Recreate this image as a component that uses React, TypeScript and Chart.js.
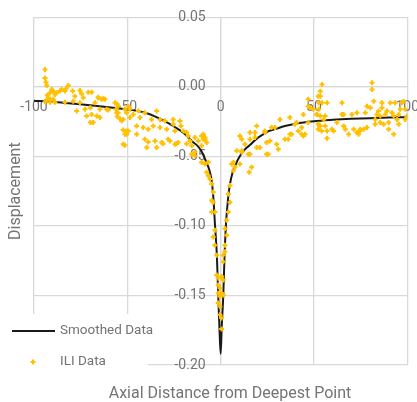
import React, { useEffect, useRef } from "react";
import { Chart, registerables } from "chart.js";

Chart.register(...registerables);

const FONT = "Roboto, 'Noto Sans', sans-serif";
const TEXT = "#747474";
const GRID = "#d9d9d9";
const GOLD = "#FFC000";

const xTitle = "Axial Distance from Deepest Point";
const yTitle = "Displacement";
const seriesNames = ["Smoothed Data", "ILI Data"];

const xTicks = [-100, -50, 0, 50, 100];
const xTickLabels = ["-100", "-50", "0", "50", "100"];
const yTicks = [0.05, 0, -0.05, -0.1, -0.15, -0.2];
const yTickLabels = ["0.05", "0.00", "-0.05", "-0.10", "-0.15", "-0.20"];

// Smoothed curve
const smoothX = [
  -100, -90, -80, -70, -60, -50, -40, -30, -25, -20, -15, -12, -10, -8, -6, -5, -4, -3, -2, -1.3, -0.6, 0,
  0.6, 1.4, 2, 2.8, 4, 5, 6.5, 8, 10, 13, 16, 19, 23, 26, 30, 35, 40, 50, 60, 70, 80, 90, 100,
];
const smoothY = [
  -0.01, -0.0108, -0.012, -0.0132, -0.0146, -0.0162, -0.0188, -0.0246, -0.0285, -0.033, -0.0395, -0.043, -0.047,
  -0.053, -0.06, -0.066, -0.078, -0.1, -0.122, -0.15, -0.175, -0.192,
  -0.172, -0.15, -0.125, -0.1, -0.08, -0.07, -0.061, -0.056, -0.0505, -0.045, -0.0415, -0.0376, -0.034, -0.0317,
  -0.03, -0.028, -0.0265, -0.0247, -0.0237, -0.023, -0.0225, -0.0221, -0.0218,
];

// ILI scatter data
const iliX = [
  -94.1, -94.1, -93.6, -93.2, -92.4, -91.4, -91.4, -91.4, -90.5, -89.7, -89.7, -88.8, -88.8, -87.9, -86.1, -85.2,
  -83.4, -83.4, -82.9, -81.6, -79.3, -79, -78.1, -77.1, -75.4, -75.4, -74.5, -73.6, -72.7, -71.8, -70.9, -69.8,
  -69.8, -69.1, -69.1, -68.3, -67.3, -65.6, -64.7, -64.7, -62.9, -62, -61.1, -60.2, -56.6, -56.1, -55.4, -55.4,
  -54.9, -53.9, -53, -52.2, -52.2, -51.3, -51.3, -51.3, -50.4, -50.4,
  -93.2, -94, -92.9, -65.6, -63.8, -66.4, -54.9, -55.7, -52.2, -49.5, -50.4,
  -49.5, -48.6, -48.6, -46.8, -44.1, -43.2, -45, -41.5, -40.6, -38.8, -40.6, -38.8, -39.6, -37, -36.1, -34.3,
  -35.2, -34.3, -32.5, -32.5, -31.6, -29.8, -28.9, -28.1, -27.2, -25.4, -25.4, -24.5, -24.5, -22.7, -21.8, -21.3,
  -20, -18.2, -17.4, -16.4, -15.5, -13.8, -12, -9.3, -9.3, -8.4, -10.2, -13.8,
  -45, -30.8, -23.6, -18.2, -10.2, -8.4, -7.5,
  -15.5, -13.8, -10.2, -8.4, -6.6, -7.5, -6.6, -5.7, -4.8, -4, -4.8, -4, -4.8, -3.1, -3.1, -4, -3.1, -2.1, -2.1,
  -1.3, -1.3, -0.4, -1.3, -0.4, -1.3, -0.4, -0.4,
  0.5, 0.5, 0.5, 0.5, 1.4, 1.4, 1.4, 1.4, 2.3, 2.3, 3.2, 2.3, 3.2, 4.1, 5, 4.1, 5, 5.9, 7.7, 6.8, 6.8, 10.3, 8.6,
  11.3, 14.8, 15.3, 16.6, 15.7, 11.3, 10.3, 11.3, 13, 15.7, 18.4, 19.3, 21,
  24.6, 26.4, 30, 30.9, 25.5, 23.7, 34.4, 36.2, 38, 15.7, 19.3, 18.4, 23.7, 24.6, 27.3, 29.1, 31.8, 37.1, 37.1,
  39.8, 40.7, 41.6, 43.4, 44.3, 46.9, 46.9, 46.9, 47.8, 49.6, 51.4, 52.3, 52.3, 43.4, 45.2, 44.3, 52.3, 54.1,
  54.3, 53.4, 53.4, 52.5, 54.3, 57, 52.5, 51.6, 53.4, 56, 55.2, 52.5, 53.4, 56, 57, 57, 59.6, 60.5, 62.3, 65, 65,
  65.9, 65.9, 66.8, 68.6, 70.3, 71.3, 73, 73.9, 74.8, 76.6, 77.5, 78.4, 78.4, 80.2, 81.1, 81.1, 82, 82.8, 82.8,
  83.7, 84.6, 85.5, 85.5, 86.4, 86.4, 87.3, 88.2, 89.1, 90, 90, 90.9, 91.8, 92.7, 93.5, 94.5, 95.4, 96.2, 97.1,
  98, 98.9, 99.8, 98.9, 95.4, 92.7, 72.9, 74.6,
];
const iliY = [
  0.0124, 0.0064, 0.0033, 0.001, -0.0079, -0.0043, -0.009, -0.011, -0.002, -0.003, -0.009, -0.0055, -0.011, -0.0043,
  -0.003, -0.002, -0.003, -0.011, -0.0014, 0.001, -0.003, -0.0103, -0.0067, -0.0174, -0.0026, -0.0114, -0.005,
  -0.0079, -0.0162, -0.021, -0.0039, -0.015, -0.0257, -0.0039, -0.0198, -0.0257, -0.0114, -0.0074, -0.0162, -0.0221,
  -0.0086, -0.009, -0.0162, -0.0167, -0.0114, -0.0162, -0.0126, -0.0214, -0.0186, -0.0229, -0.0246, -0.031, -0.0412,
  -0.0162, -0.034, -0.042, -0.0186, -0.0317,
  -0.0095, -0.0105, -0.006, -0.0079, -0.009, -0.021, -0.0139, -0.0186, -0.0234, -0.0317, -0.034,
  -0.0139, -0.0162, -0.0221, -0.0198, -0.0174, -0.0221, -0.0281, -0.0293, -0.0186, -0.0305, -0.0376, -0.0396,
  -0.0436, -0.0234, -0.0281, -0.0174, -0.0389, -0.0436, -0.0234, -0.0293, -0.04, -0.0246, -0.0305, -0.0376, -0.0389,
  -0.0234, -0.0269, -0.0317, -0.0412, -0.04, -0.0246, -0.0281, -0.0317, -0.0329, -0.0353, -0.0389, -0.0424, -0.0364,
  -0.0389, -0.034, -0.0376, -0.0376, -0.0424, -0.0496,
  -0.034, -0.041, -0.041, -0.041, -0.0353, -0.0364, -0.04,
  -0.0484, -0.0471, -0.0543, -0.0555, -0.0543, -0.0614, -0.0639, -0.0662, -0.0698, -0.0757, -0.0817, -0.0829,
  -0.09, -0.09, -0.1031, -0.1079, -0.1139, -0.121, -0.1353, -0.1376, -0.1424, -0.1448, -0.1484, -0.1507, -0.1555,
  -0.1579, -0.1639,
  -0.1364, -0.1484, -0.1662, -0.1741, -0.121, -0.1257, -0.1389, -0.1496, -0.1186, -0.1139, -0.1067, -0.1019,
  -0.096, -0.09, -0.0829, -0.077, -0.071, -0.0555, -0.0579, -0.0603, -0.0543, -0.0555, -0.046, -0.0471, -0.0484,
  -0.0614, -0.0579, -0.0484, -0.046, -0.0353, -0.0376, -0.0412, -0.0376, -0.0329, -0.0436, -0.0436,
  -0.04, -0.0389, -0.0412, -0.0448, -0.0484, -0.0329, -0.0376, -0.0376, -0.034, -0.0329, -0.0281, -0.0364,
  -0.0317, -0.0484, -0.0293, -0.0293, -0.0234, -0.034, -0.0221, -0.0269, -0.0257, -0.0317, -0.0293, -0.0198,
  -0.0257, -0.009, -0.0139, -0.015, -0.0162, -0.0198, -0.0067, -0.0269, -0.034, -0.034, -0.0353, -0.0305, -0.0317,
  0.0016, -0.0031, -0.0067, -0.0114, -0.0114, -0.0114, -0.0162, -0.0198, -0.021, -0.021, -0.0234, -0.0269, -0.0281,
  -0.0281, -0.0317, -0.0369, -0.0305, -0.0317, -0.0257, -0.0114, -0.0198, -0.0198, -0.0281, -0.0305, -0.034,
  -0.0198, -0.0305, -0.0186, -0.034, -0.0305, -0.0305, -0.0186, -0.0139, -0.0293, -0.015, 0.0029, -0.0019, -0.0103,
  -0.0234, -0.0269, -0.0198, -0.0174, -0.021, -0.0257, -0.0114, -0.015, -0.0269, -0.0198, -0.0174, -0.0257, -0.0305,
  -0.0114, -0.0186, -0.034, -0.0114, -0.0234, -0.0269, -0.0162, -0.0114, -0.0103, -0.0162, -0.021, -0.0234, -0.0198,
  -0.021, -0.0329, -0.0317,
];

const textPlugin = {
  id: "customText",
  beforeDatasetsDraw(chart: any) {
    const ctx = chart.ctx;
    const xs = chart.scales.x;
    const ys = chart.scales.y;
    const x0 = xs.getPixelForValue(0);
    const y0 = ys.getPixelForValue(0);
    ctx.save();
    ctx.fillStyle = TEXT;
    ctx.font = `14px ${FONT}`;
    ctx.textBaseline = "middle";
    ctx.textAlign = "center";
    xTicks.forEach((v, i) => ctx.fillText(xTickLabels[i], xs.getPixelForValue(v), y0 + 21));
    ctx.textAlign = "right";
    yTicks.forEach((v, i) => ctx.fillText(yTickLabels[i], x0 - 15, ys.getPixelForValue(v)));
    ctx.restore();
  },
  afterDatasetsDraw(chart: any) {
    const ctx = chart.ctx;
    const area = chart.chartArea;
    ctx.save();
    // legend box
    ctx.fillStyle = "#ffffff";
    ctx.fillRect(0, 314, 148, 58);
    ctx.strokeStyle = "#1a1a1a";
    ctx.lineWidth = 2;
    ctx.beginPath();
    ctx.moveTo(12, 331);
    ctx.lineTo(55, 331);
    ctx.stroke();
    ctx.strokeStyle = GOLD;
    ctx.lineWidth = 2;
    ctx.beginPath();
    ctx.moveTo(30.5, 362);
    ctx.lineTo(35.5, 362);
    ctx.moveTo(33, 359.5);
    ctx.lineTo(33, 364.5);
    ctx.stroke();
    ctx.fillStyle = TEXT;
    ctx.font = `13.5px ${FONT}`;
    ctx.textAlign = "left";
    ctx.textBaseline = "middle";
    ctx.fillText(seriesNames[0], 60, 331);
    ctx.fillText(seriesNames[1], 60, 362);
    // axis titles
    ctx.font = `16px ${FONT}`;
    ctx.textAlign = "center";
    ctx.fillText(xTitle, 230, 394);
    ctx.translate(16, (area.top + area.bottom) / 2);
    ctx.rotate(-Math.PI / 2);
    ctx.fillText(yTitle, 0, 0);
    ctx.restore();
  },
};

export default function App() {
  const ref = useRef<HTMLCanvasElement | null>(null);
  useEffect(() => {
    if (!ref.current) return;
    const chart = new Chart(ref.current, {
      type: "scatter",
      data: {
        datasets: [
          {
            label: seriesNames[1],
            data: iliX.map((x, i) => ({ x, y: iliY[i] })),
            pointStyle: "cross",
            pointRadius: 2.5,
            pointBorderWidth: 2,
            borderColor: GOLD,
            backgroundColor: GOLD,
            showLine: false,
          },
          {
            label: seriesNames[0],
            data: smoothX.map((x, i) => ({ x, y: smoothY[i] })),
            showLine: true,
            borderColor: "#1a1a1a",
            borderWidth: 2,
            pointRadius: 0,
            cubicInterpolationMode: "monotone",
          } as any,
        ],
      },
      options: {
        responsive: false,
        animation: false,
        layout: { padding: { left: 34, right: 9.7, top: 17.3, bottom: 37 } },
        plugins: { legend: { display: false }, tooltip: { enabled: false } },
        scales: {
          x: {
            type: "linear",
            min: -100,
            max: 100,
            position: { y: 0 } as any,
            afterBuildTicks: (s: any) => {
              s.ticks = xTicks.map((value) => ({ value }));
            },
            ticks: { display: false },
            grid: { color: GRID, lineWidth: 1.3, drawTicks: false },
            border: { color: GRID, width: 1.3 },
          },
          y: {
            type: "linear",
            min: -0.2,
            max: 0.05,
            position: { x: 0 } as any,
            afterBuildTicks: (s: any) => {
              s.ticks = yTicks.map((value) => ({ value }));
            },
            ticks: { display: false },
            grid: { color: GRID, lineWidth: 1.3, drawTicks: false },
            border: { color: GRID, width: 1.3 },
          },
        },
      },
      plugins: [textPlugin],
    });
    return () => chart.destroy();
  }, []);
  return (
    <canvas
      ref={ref}
      width={417}
      height={402}
      style={{ position: "fixed", left: 0, top: 0, display: "block" }}
    />
  );
}
